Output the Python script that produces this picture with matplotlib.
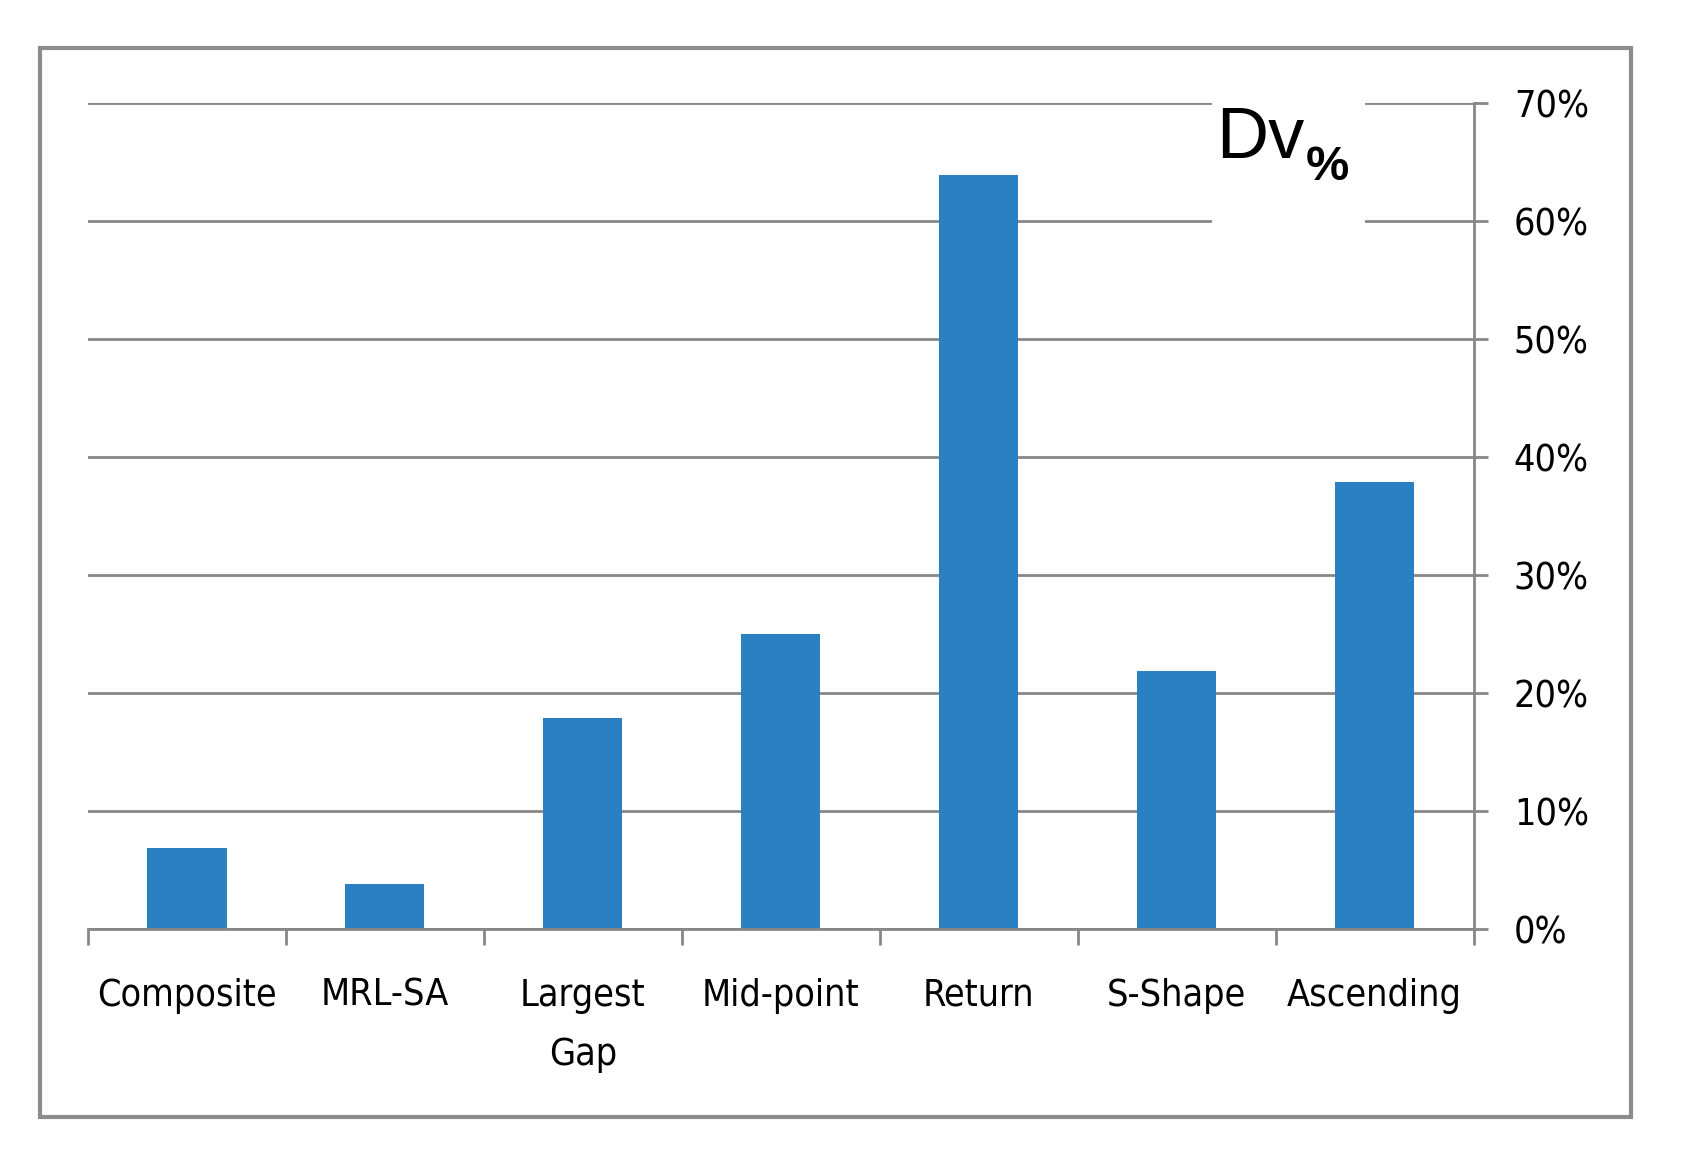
import matplotlib.pyplot as plt
from matplotlib.patches import Rectangle
import numpy as np

# Data
categories = ['Composite', 'MRL-SA', 'Largest\nGap', 'Mid-point', 'Return', 'S-Shape', 'Ascending']
dv_values = [6.9, 3.8, 17.9, 25.0, 63.9, 21.9, 37.9]
y_ticks = [0, 10, 20, 30, 40, 50, 60, 70]
y_tick_labels = ['0%', '10%', '20%', '30%', '40%', '50%', '60%', '70%']

W, H = 1684, 1160
DPI = 100
grey = '#878787'
bar_color = '#2a80c0'
label_kw = dict(fontfamily='DejaVu Sans', fontstretch='condensed', fontsize=27)

fig = plt.figure(figsize=(W / DPI, H / DPI), dpi=DPI)
fig.patch.set_facecolor('white')

# outer frame
fig.patches.append(Rectangle((40 / W, 1 - 1117 / H), (1631 - 40) / W, (1117 - 48) / H,
                             transform=fig.transFigure, fill=False,
                             edgecolor='#8c8c8c', linewidth=3.0))

ax = fig.add_axes([88 / W, 1 - 929 / H, (1473.5 - 88) / W, (929 - 103) / H])

x = np.arange(len(categories))
ax.bar(x, dv_values, width=0.40, color=bar_color, zorder=3)

ax.set_xlim(-0.5, len(categories) - 0.5)
ax.set_ylim(0, 70)

# grid
ax.set_axisbelow(True)
ax.yaxis.grid(True, color=grey, linewidth=2.0)
ax.xaxis.grid(False)

for s in ['left', 'top']:
    ax.spines[s].set_visible(False)
for s in ['right', 'bottom']:
    ax.spines[s].set_color(grey)
    ax.spines[s].set_linewidth(2.0)
    ax.spines[s].set_zorder(4)

# y axis on the right
ax.yaxis.tick_right()
ax.set_yticks(y_ticks)
ax.set_yticklabels(y_tick_labels, ha='left', **label_kw)
ax.tick_params(axis='y', direction='out', length=10, width=2, color=grey, pad=19)

# x labels centered, ticks at boundaries
ax.set_xticks(x)
ax.set_xticklabels(categories, linespacing=1.85, **label_kw)
ax.tick_params(axis='x', which='major', length=0, pad=35)
ax.set_xticks(np.arange(-0.5, len(categories), 1), minor=True)
ax.tick_params(axis='x', which='minor', direction='out', length=11.5, width=2, color=grey)

# white box behind the Dv% label
ax.add_patch(Rectangle((5.18, 58.2), 0.77, 13.5, facecolor='white', edgecolor='none',
                       zorder=2, clip_on=False))
ax.text(5.20, 65.3, 'Dv', fontsize=52, fontfamily=['Liberation Sans', 'DejaVu Sans'],
        va='baseline', ha='left', zorder=5)
ax.text(5.65, 63.5, '%', fontsize=35, fontweight='bold',
        fontfamily=['Liberation Sans', 'DejaVu Sans'], va='baseline', ha='left', zorder=5)

plt.savefig('out.png', dpi=DPI)
